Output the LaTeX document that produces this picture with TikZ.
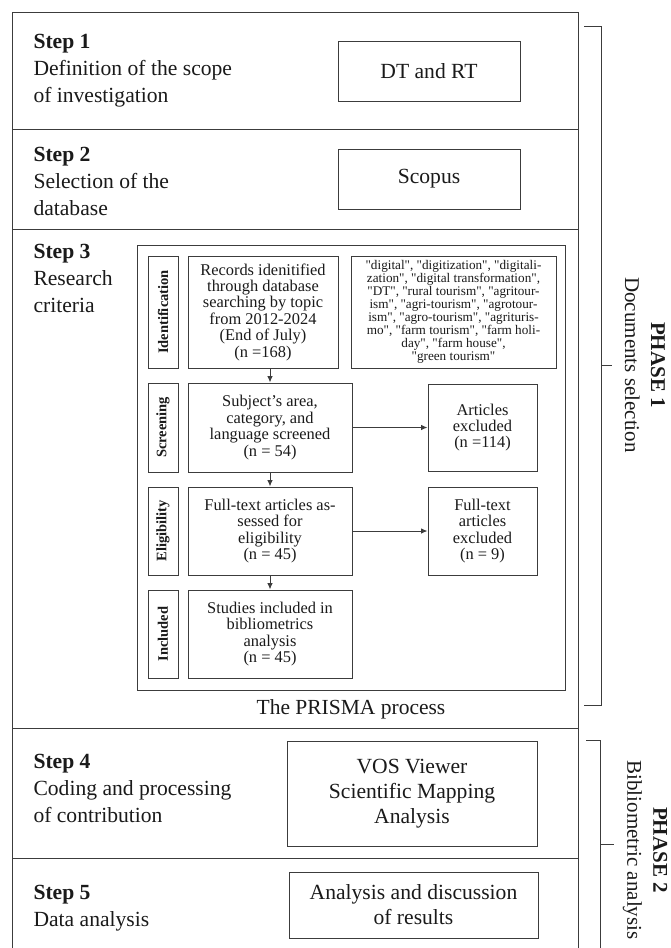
\documentclass[tikz,border=0pt]{standalone}
\usepackage{fontspec}
\setmainfont{Liberation Serif}
\newfontfamily\kwfont{Liberation Serif}% no TeX mapping: keeps straight quotes
\usetikzlibrary{arrows.meta, positioning}
\definecolor{frame}{HTML}{3C3C3C}
\definecolor{ink}{HTML}{1A1A1A}

\begin{document}
\begin{tikzpicture}[x=1pt, y=-1pt, >={Latex[length=6.5pt, width=5.5pt]}, line width=1pt,
  tool/.style={draw=frame, text=ink, font=\fontsize{21.6}{25}\selectfont, align=center, inner sep=1pt},
  flow/.style={draw=frame, text=ink, font=\fontsize{16.4}{16.4}\selectfont, align=center, inner sep=1pt},
  tag/.style={draw=frame, text=ink, font=\fontsize{14.5}{16}\selectfont\bfseries, rotate=90,
    inner sep=1pt, minimum height=30pt},
  steptext/.style={text=ink, font=\fontsize{21.6}{27}\selectfont, align=left, anchor=west, inner sep=0pt},
  phase/.style={text=ink, font=\fontsize{21}{26}\selectfont, align=center, rotate=-90, inner sep=0pt}]

% Background / page size (1 unit = 1 px of the 670x948 sheet)
\fill[white] (0,0) rectangle (670,948);
\useasboundingbox (0,0) rectangle (670,948);

% ================================================================
% Outer frame with the five step rows (open at the bottom)
% ================================================================
\draw[frame] (12,948) -- (12,12) -- (578,12) -- (578,948);
\foreach \yy in {129, 229, 728, 858} {
  \draw[frame] (12,\yy) -- (578,\yy);
}

% Step captions (left column)
\node[steptext] (st1) at (33,71) {\textbf{Step 1}\\Definition of the scope\\of investigation};
\node[steptext] (st2) at (33,181) {\textbf{Step 2}\\Selection of the\\database};
\node[steptext] (st3) at (33,278) {\textbf{Step 3}\\Research\\criteria};
\node[steptext] (st4) at (33,788) {\textbf{Step 4}\\Coding and processing\\of contribution};
\node[steptext] (st5) at (33,908) {\textbf{Step 5}\\Data analysis};

% Tool boxes (right column)
\node[tool, minimum width=182pt, minimum height=60pt] (dtrt) at (429,71) {DT and RT};
\node[tool, minimum width=182pt, minimum height=60pt] (scopus) at (429,179) {Scopus};
\node[tool, minimum width=250pt, minimum height=105pt] (vos) at (412,793.5)
  {VOS Viewer\\Scientific Mapping\\Analysis};
\node[tool, minimum width=249pt, minimum height=66pt] (disc) at (413.5,905)
  {Analysis and discussion\\of results};

% ================================================================
% PRISMA block inside step 3
% ================================================================
\draw[frame] (137,245) rectangle (565,690);
\node[text=ink, font=\fontsize{21.5}{24}\selectfont] (prisma) at (351,709) {The PRISMA process};

% stage tags (x 148..178)
\node[tag, minimum width=112pt] (tagid) at (163,312) {Identification};
\node[tag, minimum width=89pt] (tagscr) at (163,427.5) {Screening};
\node[tag, minimum width=88pt] (tagelg) at (163,531) {Eligibility};
\node[tag, minimum width=88pt] (taginc) at (163,634) {Included};

% main flow boxes
\node[flow, minimum width=150pt, minimum height=112pt] (rec) at (263,312)
  {Records idenitified\\through database\\searching by topic\\from 2012-2024\\(End of July)\\(n =168)};
\node[flow, minimum width=205pt, minimum height=112pt, font=\kwfont\fontsize{13.2}{13}\selectfont] (kw) at (453.5,312)
  {"digital", "digitization", "digitali-\\zation", "digital transformation",\\"DT", "rural tourism", "agritour-\\ism", "agri-tourism", "agrotour-\\ism", "agro-tourism", "agrituris-\\mo", "farm tourism", "farm holi-\\day", "farm house",\\"green tourism"};
\node[flow, minimum width=164pt, minimum height=89pt] (scr) at (270,427.5)
  {Subject's area,\\category, and\\language screened\\(n = 54)};
\node[flow, minimum width=109pt, minimum height=87pt] (exc1) at (482.5,427.5)
  {Articles\\excluded\\(n =114)};
\node[flow, minimum width=164pt, minimum height=88pt] (elg) at (270,531)
  {Full-text articles as-\\sessed for\\eligibility\\(n = 45)};
\node[flow, minimum width=109pt, minimum height=88pt] (exc2) at (482.5,531)
  {Full-text\\articles\\excluded\\(n = 9)};
\node[flow, minimum width=164pt, minimum height=88pt] (inc) at (270,634)
  {Studies included in\\bibliometrics\\analysis\\(n = 45)};

% connectors
\draw[->, frame] (rec.south -| scr.north) -- (scr.north);
\draw[->, frame] (scr) -- (exc1);
\draw[->, frame] (scr) -- (elg);
\draw[->, frame] (elg) -- (exc2);
\draw[->, frame] (elg) -- (inc);

% ================================================================
% Phase brackets (right margin)
% ================================================================
\draw[frame] (584,26) -- (601,26) -- (601,705) -- (584,705);
\draw[frame] (601,365) -- (612,365);
\node[phase] (ph1) at (645,365) {\textbf{PHASE 1}\\Documents selection};

\draw[frame] (586,740) -- (600,740) -- (600,948);
\draw[frame] (600,844) -- (614,844);
\node[phase] (ph2) at (645,850) {\textbf{PHASE 2}\\Bibliometric analysis};

\end{tikzpicture}
\end{document}
